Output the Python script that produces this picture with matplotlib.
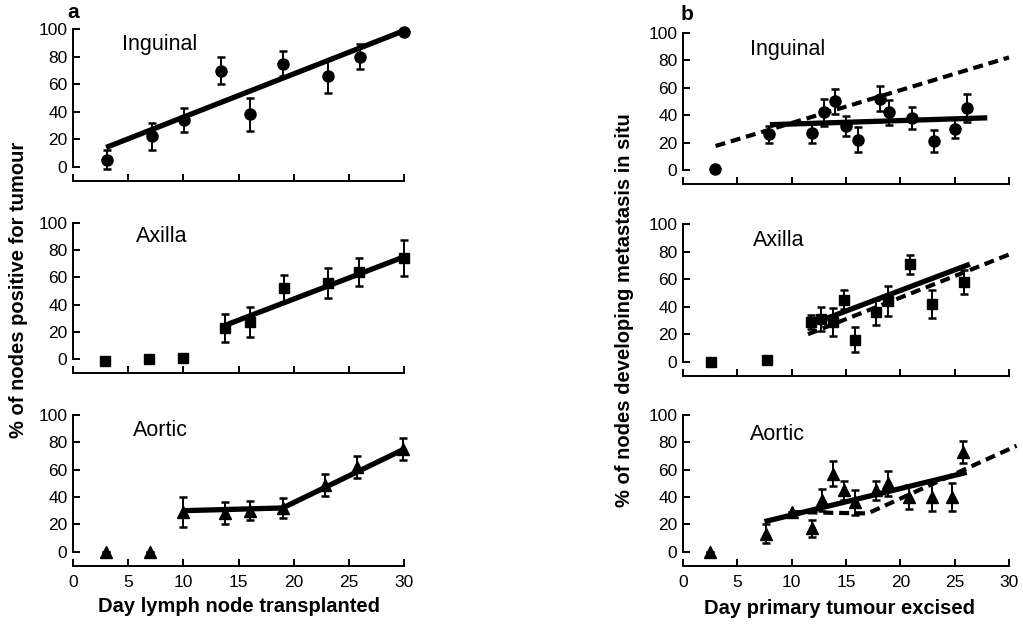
import numpy as np
import matplotlib
matplotlib.use("Agg")
import matplotlib.pyplot as plt

plt.rcParams['font.family'] = ['Liberation Sans', 'DejaVu Sans']

# ---- panel a : lymph node transplanted ----
a_ing_day = [3.1, 7.2, 10.1, 13.4, 16.0, 19.0, 23.1, 26.0, 30.0]
a_ing_pct = [5, 22, 34, 70, 38, 75, 66, 80, 98]
a_ing_err = [7, 10, 9, 10, 12, 9, 12, 9, 0]
a_ing_fit_x = [3, 30]
a_ing_fit_y = [14, 99]

a_ax_day = [2.9, 6.9, 10.0, 13.8, 16.0, 19.1, 23.1, 25.9, 30.0]
a_ax_pct = [-1, 0, 1, 23, 27, 52, 56, 64, 74]
a_ax_err = [0, 0, 0, 10, 11, 10, 11, 10, 13]
a_ax_fit_x = [13.5, 30]
a_ax_fit_y = [24, 75]

a_ao_day = [3.0, 7.0, 10.0, 13.8, 16.0, 19.0, 22.8, 25.7, 29.9]
a_ao_pct = [0, 0, 29, 28, 30, 32, 49, 62, 75]
a_ao_err = [0, 0, 11, 8, 7, 7, 8, 8, 8]
a_ao_fit_x = [10, 19, 30]
a_ao_fit_y = [30, 32, 75]

# ---- panel b : primary tumour excised ----
b_ing_day = [2.9, 7.9, 11.9, 13.0, 14.0, 15.0, 16.1, 18.1, 19.0, 21.1, 23.1, 25.0, 26.1]
b_ing_pct = [1, 26, 27, 42, 50, 32, 22, 52, 42, 38, 21, 30, 45]
b_ing_err = [0, 6, 7, 10, 9, 7, 9, 9, 9, 8, 8, 7, 10]
b_ing_fit_x = [8, 28]
b_ing_fit_y = [33, 38]
b_ing_dash_x = [3, 30]
b_ing_dash_y = [17.5, 82]

b_ax_day = [2.6, 7.7, 11.8, 12.7, 13.8, 14.8, 15.8, 17.8, 18.9, 20.9, 22.9, 25.9]
b_ax_pct = [0, 1, 29, 31, 29, 45, 16, 36, 44, 71, 42, 58]
b_ax_err = [0, 0, 5, 9, 10, 7, 9, 9, 11, 7, 10, 9]
b_ax_fit_x = [11.7, 26.4]
b_ax_fit_y = [27, 71]
b_ax_dash_x = [11.5, 30]
b_ax_dash_y = [20, 78]

b_ao_day = [2.5, 7.6, 10.0, 11.9, 12.8, 13.8, 14.8, 15.8, 17.8, 18.9, 20.8, 22.9, 24.8, 25.8]
b_ao_pct = [0, 13, 29, 17, 38, 57, 45, 36, 45, 50, 40, 40, 40, 73]
b_ao_err = [0, 7, 0, 6, 8, 9, 7, 9, 7, 9, 9, 10, 10, 8]
b_ao_fit_x = [7.5, 26.1]
b_ao_fit_y = [22, 58]
b_ao_dash_x = [10, 17, 30.7]
b_ao_dash_y = [29, 28, 77.5]

yticks = [0, 20, 40, 60, 80, 100]
xticks = [0, 5, 10, 15, 20, 25, 30]

W, H = 1023, 624
fig = plt.figure(figsize=(W / 100, H / 100), dpi=100)


def px_axes(left, right, top, bottom):
    return fig.add_axes([left / W, 1 - bottom / H, (right - left) / W, (bottom - top) / H])


def setup(ax, show_x):
    ax.set_xlim(0, 30)
    ax.set_ylim(0, 100)
    for s in ['top', 'right']:
        ax.spines[s].set_visible(False)
    ax.spines['bottom'].set_position(('outward', 10))
    for s in ['left', 'bottom']:
        ax.spines[s].set_linewidth(1.4)
    ax.set_yticks(yticks)
    ax.set_xticks(xticks)
    ax.tick_params(axis='both', direction='in', length=5, width=1.4, labelsize=12.5)
    ax.tick_params(axis='y', pad=4)
    ax.tick_params(axis='x', pad=7)
    if not show_x:
        ax.set_xticklabels([])
    ax.patch.set_visible(False)


def points(ax, day, pct, err, marker, ms):
    eb = ax.errorbar(day, pct, yerr=err, fmt=marker, ms=ms, color='black',
                     ecolor='black', elinewidth=1.4, capsize=3, capthick=1.8)
    for art in [eb.lines[0], *eb.lines[1], *eb.lines[2]]:
        art.set_clip_on(False)


def fit(ax, x, y, dashed=False):
    if dashed:
        ax.plot(x, y, color='black', lw=3.0, ls=(0, (2.4, 1.4)), clip_on=False,
                solid_capstyle='butt', dash_capstyle='butt')
    else:
        ax.plot(x, y, color='black', lw=3.8, clip_on=False, solid_capstyle='butt')


# panel a
ax1 = px_axes(73, 404, 29.3, 166.7)
ax2 = px_axes(73, 404, 222.7, 359.3)
ax3 = px_axes(73, 404, 415, 551.7)
# panel b
bx1 = px_axes(683, 1009, 32.7, 170)
bx2 = px_axes(683, 1009, 224.3, 361.7)
bx3 = px_axes(683, 1009, 415, 551.7)

for ax, show in [(ax1, False), (ax2, False), (ax3, True), (bx1, False), (bx2, False), (bx3, True)]:
    setup(ax, show)

points(ax1, a_ing_day, a_ing_pct, a_ing_err, 'o', 8)
fit(ax1, a_ing_fit_x, a_ing_fit_y)
points(ax2, a_ax_day, a_ax_pct, a_ax_err, 's', 7)
fit(ax2, a_ax_fit_x, a_ax_fit_y)
points(ax3, a_ao_day, a_ao_pct, a_ao_err, '^', 8)
fit(ax3, a_ao_fit_x, a_ao_fit_y)

points(bx1, b_ing_day, b_ing_pct, b_ing_err, 'o', 8)
fit(bx1, b_ing_fit_x, b_ing_fit_y)
fit(bx1, b_ing_dash_x, b_ing_dash_y, dashed=True)
points(bx2, b_ax_day, b_ax_pct, b_ax_err, 's', 7)
fit(bx2, b_ax_fit_x, b_ax_fit_y)
fit(bx2, b_ax_dash_x, b_ax_dash_y, dashed=True)
points(bx3, b_ao_day, b_ao_pct, b_ao_err, '^', 8)
fit(bx3, b_ao_fit_x, b_ao_fit_y)
fit(bx3, b_ao_dash_x, b_ao_dash_y, dashed=True)

# site names
for ax, name, x, y in [(ax1, 'Inguinal', 0.147, 0.886), (ax2, 'Axilla', 0.19, 0.90),
                       (ax3, 'Aortic', 0.18, 0.885), (bx1, 'Inguinal', 0.205, 0.874),
                       (bx2, 'Axilla', 0.216, 0.88), (bx3, 'Aortic', 0.205, 0.861)]:
    ax.text(x, y, name, transform=ax.transAxes, fontsize=15.5, ha='left', va='center')

fig.text(73 / W, 1 - 13 / H, 'a', fontsize=15, fontweight='bold', ha='center', va='center')
fig.text(687 / W, 1 - 14 / H, 'b', fontsize=15, fontweight='bold', ha='center', va='center')

fig.text(19 / W, 1 - 290 / H, '% of nodes positive for tumour', rotation=90,
         fontsize=14.5, fontweight='bold', ha='center', va='center')
fig.text(625 / W, 1 - 310 / H, '% of nodes developing metastasis in situ', rotation=90,
         fontsize=14.5, fontweight='bold', ha='center', va='center')
fig.text(239 / W, 1 - 607 / H, 'Day lymph node transplanted',
         fontsize=14.5, fontweight='bold', ha='center', va='center')
fig.text(839 / W, 1 - 608 / H, 'Day primary tumour excised',
         fontsize=14.5, fontweight='bold', ha='center', va='center')

fig.savefig('out.png', dpi=100, facecolor='white')
